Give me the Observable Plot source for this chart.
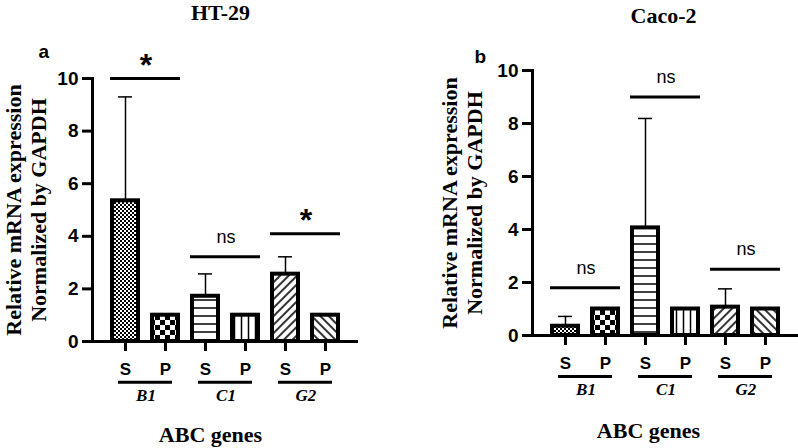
<!DOCTYPE html>
<html><head><meta charset="utf-8">
<script src="https://cdn.jsdelivr.net/npm/d3@7"></script>
<script src="https://cdn.jsdelivr.net/npm/@observablehq/plot@0.6"></script>
<style>
html,body{margin:0;padding:0;background:#fff;}
#wrap{display:flex;width:798px;height:448px;overflow:hidden;}
#wrap svg{display:block;}
#wrap g[aria-label="y-axis tick label"] text{font-size:19px;font-weight:bold;font-family:"Liberation Sans",Arial,sans-serif;}
#wrap g[aria-label="x-axis tick label"] text{font-size:17px;font-weight:bold;font-family:"Liberation Sans",Arial,sans-serif;}
</style></head><body>
<svg width="0" height="0" style="position:absolute;left:0;top:0">
<defs>
<pattern id="p-fine" patternUnits="userSpaceOnUse" width="4" height="4">
 <rect width="4" height="4" fill="white"/>
 <rect width="2" height="2" fill="black"/>
 <rect x="2" y="2" width="2" height="2" fill="black"/>
</pattern>
<pattern id="p-check" patternUnits="userSpaceOnUse" width="10" height="10">
 <rect width="10" height="10" fill="white"/>
 <rect width="5" height="5" fill="black"/>
 <rect x="5" y="5" width="5" height="5" fill="black"/>
</pattern>
<pattern id="p-hline" patternUnits="userSpaceOnUse" width="8" height="8">
 <rect width="8" height="8" fill="white"/>
 <line x1="0" y1="4" x2="8" y2="4" stroke="black" stroke-width="1.5"/>
</pattern>
<pattern id="p-vline" patternUnits="userSpaceOnUse" width="7" height="7">
 <rect width="7" height="7" fill="white"/>
 <line x1="3.5" y1="0" x2="3.5" y2="7" stroke="black" stroke-width="1.5"/>
</pattern>
<pattern id="p-diag" patternUnits="userSpaceOnUse" width="6" height="6" patternTransform="rotate(45)">
 <rect width="6" height="6" fill="white"/>
 <line x1="3" y1="0" x2="3" y2="6" stroke="black" stroke-width="1.6"/>
</pattern>
<pattern id="p-anti" patternUnits="userSpaceOnUse" width="6" height="6" patternTransform="rotate(-45)">
 <rect width="6" height="6" fill="white"/>
 <line x1="3" y1="0" x2="3" y2="6" stroke="black" stroke-width="1.6"/>
</pattern>
</defs>
</svg>
<div id="wrap"></div>
<script>
// ---- data ----
const keys = ["B1-S", "B1-P", "C1-S", "C1-P", "G2-S", "G2-P"];
const genes = ["B1", "C1", "G2"];
const yTicks = [0, 2, 4, 6, 8, 10];

const ht29Mean  = [5.35, 1.0, 1.72, 1.0, 2.56, 1.0];
const ht29Upper = [9.3, null, 2.57, null, 3.22, null];
const ht29SigLabel = ["*", "ns", "*"];
const ht29SigY = [10.0, 3.22, 4.1];

const caco2Mean  = [0.35, 1.0, 4.06, 1.0, 1.07, 1.0];
const caco2Upper = [0.72, null, 8.19, null, 1.76, null];
const caco2SigLabel = ["ns", "ns", "ns"];
const caco2SigY = [1.8, 9.0, 2.5];

const fills = ["url(#p-fine)", "url(#p-check)", "url(#p-hline)", "url(#p-vline)", "url(#p-diag)", "url(#p-anti)"];

const serif = "Liberation Serif, 'Times New Roman', serif";
const sans = "Liberation Sans, Arial, sans-serif";

function panel(o) {
  const data = keys.map((k, i) => ({key: k, mean: o.mean[i], upper: o.upper[i], fill: fills[i]}));
  const errs = data.filter(d => d.upper != null);
  const sig = genes.map((g, i) => ({s: g + "-S", p: g + "-P", y: o.sigY[i], label: o.sigLabel[i]}));
  const grp = genes.map(g => ({s: g + "-S", p: g + "-P", g}));
  const pi = 0.36, po = 0.43;
  const step = (o.width - o.marginLeft - o.marginRight) / (keys.length - pi + 2 * po);
  return Plot.plot({
    width: o.width, height: 448,
    marginLeft: o.marginLeft, marginRight: o.marginRight,
    marginTop: o.marginTop, marginBottom: o.marginBottom,
    style: {fontFamily: sans, background: "white", overflow: "visible", color: "black"},
    x: {domain: keys, paddingInner: pi, paddingOuter: po},
    y: {domain: [0, 10]},
    color: {type: "identity"},
    marks: [
      Plot.barY(data, {x: "key", y: "mean", fill: "fill", stroke: "black", strokeWidth: 4}),
      Plot.ruleX(errs, {x: "key", y1: "mean", y2: "upper", stroke: "black", strokeWidth: 1.5}),
      Plot.tickY(errs, {x: "key", y: "upper", stroke: "black", strokeWidth: 1.5, insetLeft: 6, insetRight: 6}),
      Plot.ruleY([0], {stroke: "black", strokeWidth: 3}),
      Plot.frame({anchor: "left", stroke: "black", strokeWidth: 3}),
      Plot.axisY({ticks: yTicks, tickSize: 10, tickPadding: 4, stroke: "black", strokeWidth: 3,
        fontSize: 19, fontWeight: "bold", label: null, tickFormat: d => String(d)}),
      Plot.axisX({tickSize: 10, tickPadding: 11, stroke: "black", strokeWidth: 3,
        fontSize: 17, fontWeight: "bold", label: null, tickFormat: k => k.split("-")[1]}),
      // group underline + labels
      Plot.ruleY(grp, {x1: "s", x2: "p", y: -1.55, stroke: "black", strokeWidth: 3, insetLeft: 6, insetRight: 6}),
      Plot.text(grp, {x: "s", dx: step / 2, frameAnchor: "bottom", dy: 54, text: "g", lineAnchor: "middle",
        fontFamily: serif, fontStyle: "italic", fontWeight: "bold", fontSize: 17}),
      // significance
      Plot.ruleY(sig, {x1: "s", x2: "p", y: "y", stroke: "black", strokeWidth: 3, insetLeft: -2, insetRight: -2}),
      Plot.text(sig.filter(d => d.label === "*"), {x: "s", dx: step / 2, y: "y", text: "label", lineAnchor: "bottom",
        dy: -3, fontSize: 32, fontWeight: "bold"}),
      Plot.text(sig.filter(d => d.label !== "*"), {x: "s", dx: step / 2, y: "y", text: "label", lineAnchor: "bottom",
        dy: -14, fontSize: 18, fontWeight: "normal"}),
      // titles
      Plot.text([o.title], {frameAnchor: "top", textAnchor: "middle", lineAnchor: "bottom", dx: o.titleDx, dy: o.titleDy,
        fontFamily: serif, fontWeight: "bold", fontSize: 22}),
      Plot.text([o.letter], {frameAnchor: "top-left", textAnchor: "start", lineAnchor: "bottom", dx: o.letterDx, dy: o.letterDy,
        fontSize: 19, fontWeight: "bold"}),
      Plot.text(["Relative mRNA expression\nNormalized by GAPDH"], {frameAnchor: "left", textAnchor: "middle", lineAnchor: "middle",
        rotate: -90, dx: o.ylabDx, lineHeight: 1.14, fontFamily: serif, fontWeight: "bold", fontSize: 22}),
      Plot.text(["ABC genes"], {frameAnchor: "bottom", textAnchor: "middle", lineAnchor: "bottom", dx: o.xlabDx, dy: o.xlabDy,
        fontFamily: serif, fontWeight: "bold", fontSize: 22})
    ]
  });
}

const wrap = document.getElementById("wrap");
wrap.append(panel({
  mean: ht29Mean, upper: ht29Upper, sigLabel: ht29SigLabel, sigY: ht29SigY,
  title: "HT-29", letter: "a",
  width: 400, marginLeft: 92, marginRight: 42, marginTop: 78, marginBottom: 107,
  titleDx: -5, titleDy: -59, letterDx: -54, letterDy: -21, ylabDx: -67.5, xlabDx: -15, xlabDy: 100
}));
wrap.append(panel({
  mean: caco2Mean, upper: caco2Upper, sigLabel: caco2SigLabel, sigY: caco2SigY,
  title: "Caco-2", letter: "b",
  width: 398, marginLeft: 132, marginRight: 0, marginTop: 70, marginBottom: 113,
  titleDx: -2, titleDy: -48, letterDx: -58, letterDy: -8, ylabDx: -71, xlabDx: -17, xlabDy: 102
}));
</script>
</body></html>
